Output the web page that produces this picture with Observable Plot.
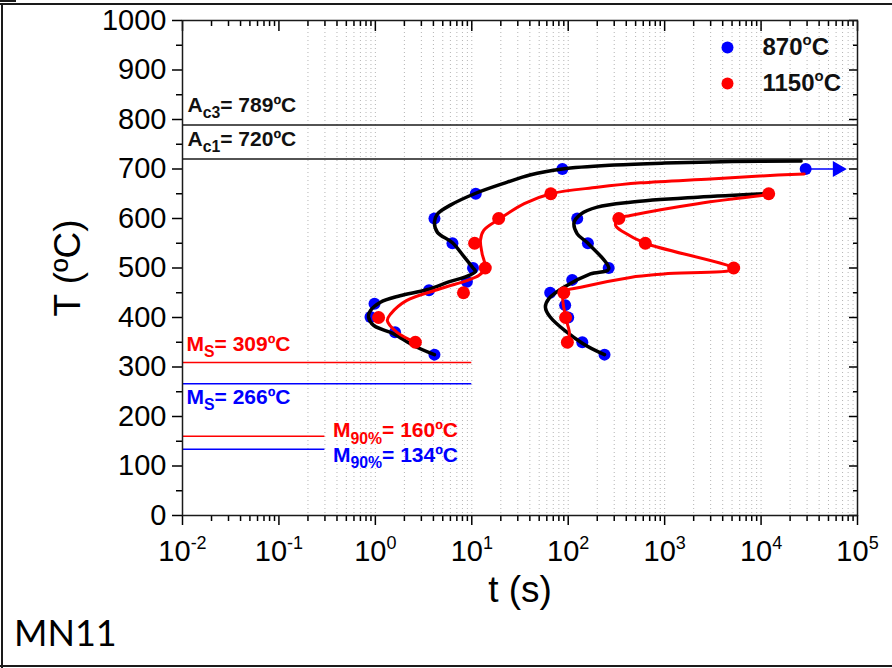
<!DOCTYPE html>
<html><head><meta charset="utf-8">
<script src="https://cdn.jsdelivr.net/npm/d3@7"></script>
<script src="https://cdn.jsdelivr.net/npm/@observablehq/plot@0.6"></script>
<style>
html,body{margin:0;padding:0;background:#fff;}
#wrap{position:relative;width:892px;height:668px;overflow:hidden;background:#fff;}
#chart{position:absolute;left:0;top:0;}
.b{position:absolute;background:#1a1a1a;}
#cap{position:absolute;left:14px;top:614px;font-family:Lato,"Noto Sans",sans-serif;font-size:36px;color:#000;line-height:1;}
</style></head><body>
<div id="wrap"><div id="chart"></div><div id="cap">MN11</div>
<div class="b" style="left:0;top:3px;width:892px;height:2px"></div>
<div class="b" style="left:1px;top:3px;width:2px;height:665px"></div>
<div class="b" style="left:0;top:665px;width:892px;height:2px"></div>
<div class="b" style="left:0;top:0;width:16px;height:2px"></div>
</div>
<script>
// ---------- data ----------
const seriesNames = ["870ºC", "1150ºC"];
const legendLabels = ["870^{o}C", "1150^{o}C"];
const pointColors = ["#0000ff", "#ff0000"];
const fitColors = ["#000000", "#ff0000"];

// measured points [t (s), T (ºC)]
const pts870 = [[87,700],[11,650],[4.1,600],[6.3,550],[10.3,500],[8.9,472],[3.6,455],[0.98,428],[0.89,401],[1.6,370],[4.1,325],
  [124,600],[160,550],[263,500],[110,476],[65,450],[93,425],[100,400],[140,350],[238,325],[2.9e4,700]];
const pts1150 = [[66,650],[19,600],[10.7,550],[13.8,500],[8.2,450],[1.08,400],[2.6,350],
  [1.2e4,650],[335,600],[630,550],[5200,500],[90,450],[94,400],[98,350]];

// fitted curves
const fit870a = [[2.6e4,716],[5000,715],[1000,712],[300,708],[87,700],[40,688],[23,673],[11,651],[6,627],[4.4,609],[4.1,593],[4.4,572],[6.3,551],[8.3,523],[10.3,500],[10.9,493],[8.3,481],[6.0,473],[3.4,456],[1.8,444],[1.13,431],[0.89,414],[0.85,401],[0.96,384],[1.55,367],[2.5,343],[4.1,325]];
const fit870b = [[1.07e4,650],[2200,643],[440,633],[200,623],[135,609],[115,592],[124,569],[160,550],[263,498],[170,488],[90,461],[63,438],[58,421],[65,401],[140,348],[238,325]];
const fit1150a = [[2.8e4,690],[1e4,686],[3000,680],[565,672],[200,663],[66,650],[35,630],[19,598],[13.3,576],[12.3,556],[12.8,529],[13.8,500],[11.8,485],[4.7,458],[2.1,434],[1.44,407],[1.33,394],[1.68,370],[2.6,350]];
const fit1150b = [[1.2e4,648],[2200,630],[441,606],[335,600],[310,586],[378,572],[630,550],[5200,498],[980,488],[441,481],[135,461],[90,451],[94,401],[103,368],[98,350]];

// arrow (t > 2.9e4 s at 700 ºC)
const arrowStart = [2.9e4, 700];
const arrowEnd = [6.2e4, 700];

// critical temperatures
const acTemps = [789, 720];
const acLabels = ["A_{c3}= 789ºC", "A_{c1}= 720ºC"];
const msTemps = [309, 266];           // 1150 (red), 870 (blue)
const msLabels = ["M_{S}= 309ºC", "M_{S}= 266ºC"];
const m90Temps = [160, 134];
const m90Labels = ["M_{90%}= 160ºC", "M_{90%}= 134ºC"];
const msLineEnd = 10;
const m90LineEnd = 0.3;
const annColors = ["#ff0000", "#0000ff"];

// axes
const xMajor = [1e-2,1e-1,1e0,1e1,1e2,1e3,1e4,1e5];
const xMinor = [];
for (let k = -2; k <= 4; k++) for (let n = 2; n <= 9; n++) xMinor.push(+(n * Math.pow(10, k)).toPrecision(3));
const gridTimes = [];
for (let k = -1; k <= 4; k++) for (let n = (k < 0 ? 2 : 1); n <= 9; n++) gridTimes.push(+(n * Math.pow(10, k)).toPrecision(3));
const yMajor = d3.range(0, 1001, 100);
const yMinor = d3.range(50, 1000, 100);

// ---------- chart ----------
const X = d => d[0], Y = d => d[1];
const blank = () => "";
const annFont = {fontSize: 21, fontWeight: "bold"};

const marks = [
  Plot.ruleX(gridTimes, {stroke: "#b4b4b4", strokeDasharray: "1,3", strokeWidth: 1}),
  Plot.ruleY(acTemps, {stroke: "#1a1a1a", strokeWidth: 1.5}),
  Plot.ruleY(msTemps, {x1: 1e-2, x2: msLineEnd, stroke: (d, i) => annColors[i], strokeWidth: 1.5}),
  Plot.ruleY(m90Temps, {x1: 1e-2, x2: m90LineEnd, stroke: (d, i) => annColors[i], strokeWidth: 1.5}),
  // blue points + black fits
  Plot.dot(pts870, {x: X, y: Y, r: 6, fill: pointColors[0]}),
  Plot.line(fit870a, {x: X, y: Y, curve: "catmull-rom", stroke: fitColors[0], strokeWidth: 3.5}),
  Plot.line(fit870b, {x: X, y: Y, curve: "catmull-rom", stroke: fitColors[0], strokeWidth: 3.5}),
  // red points + red fits
  Plot.dot(pts1150, {x: X, y: Y, r: 6.5, fill: pointColors[1]}),
  Plot.line(fit1150a, {x: X, y: Y, curve: "catmull-rom", stroke: fitColors[1], strokeWidth: 3}),
  Plot.line(fit1150b, {x: X, y: Y, curve: "catmull-rom", stroke: fitColors[1], strokeWidth: 3}),
  // arrow
  Plot.link([[arrowStart, arrowEnd]], {x1: d => d[0][0], y1: d => d[0][1], x2: d => d[1][0], y2: d => d[1][1], stroke: pointColors[0], strokeWidth: 1.5}),
  Plot.dot([arrowEnd], {x: X, y: Y, symbol: "triangle", rotate: 90, r: 5, fill: pointColors[0], stroke: pointColors[0]}),
  // annotations
  Plot.text(acTemps, {frameAnchor: "left", y: d => d, text: (d, i) => acLabels[i], dx: 5, dy: -13, textAnchor: "start", lineAnchor: "bottom", fill: "#111", ...annFont}),
  Plot.text([msTemps[0]], {frameAnchor: "left", y: d => d, text: () => msLabels[0], dx: 4, dy: -12, textAnchor: "start", lineAnchor: "bottom", fill: annColors[0], ...annFont}),
  Plot.text([msTemps[1]], {frameAnchor: "left", y: d => d, text: () => msLabels[1], dx: 4, dy: 20, textAnchor: "start", lineAnchor: "bottom", fill: annColors[1], ...annFont}),
  Plot.text([m90Temps[0]], {x: () => m90LineEnd, y: d => d, text: () => m90Labels[0], dx: 8, dy: 1, textAnchor: "start", lineAnchor: "bottom", fill: annColors[0], ...annFont}),
  Plot.text([m90Temps[1]], {x: () => m90LineEnd, y: d => d, text: () => m90Labels[1], dx: 8, dy: 13, textAnchor: "start", lineAnchor: "bottom", fill: annColors[1], ...annFont}),
  // legend
  ...legendLabels.flatMap((lab, i) => [
    Plot.dot([lab], {frameAnchor: "top-left", dx: 545, dy: 27 + 36 * i, r: 6, fill: pointColors[i]}),
    Plot.text([lab], {frameAnchor: "top-left", dx: 580, dy: 27 + 36 * i, text: d => d, textAnchor: "start", lineAnchor: "middle", fontSize: 24, fontWeight: "bold", fill: "#111"})
  ]),
  // axes
  Plot.axisY({ticks: yMajor, tickSize: 10, tickPadding: 6, tickFormat: d3.format("d"), fontSize: 29, label: null, strokeWidth: 1.5}),
  Plot.axisY({ticks: yMinor, tickSize: 6, tickFormat: blank, label: null, strokeWidth: 1.5}),
  Plot.axisY({anchor: "right", ticks: yMajor, tickSize: 9, dx: -9, tickFormat: blank, label: null, strokeWidth: 1.5}),
  Plot.axisY({anchor: "right", ticks: yMinor, tickSize: 5, dx: -5, tickFormat: blank, label: null, strokeWidth: 1.5}),
  Plot.axisX({ticks: xMajor, tickSize: 10, tickPadding: 15, tickFormat: d => `10^{${Math.round(Math.log10(d))}}`, fontSize: 29, label: null, strokeWidth: 1.5}),
  Plot.axisX({ticks: xMinor, tickSize: 6, tickFormat: blank, label: null, strokeWidth: 1.5}),
  Plot.axisX({anchor: "top", ticks: xMajor, tickSize: 10, dy: 10, tickFormat: blank, label: null, strokeWidth: 1.5}),
  Plot.axisX({anchor: "top", ticks: xMinor, tickSize: 5, dy: 5, tickFormat: blank, label: null, strokeWidth: 1.5}),
  Plot.frame({stroke: "#1a1a1a", strokeWidth: 1.5}),
  Plot.text(["T (ºC)"], {frameAnchor: "left", dx: -114, rotate: -90, text: d => d, fontSize: 37, textAnchor: "middle", lineAnchor: "middle", fill: "#000"}),
  Plot.text(["t (s)"], {frameAnchor: "bottom", dy: 75, text: d => d, fontSize: 37, textAnchor: "middle", lineAnchor: "middle", fill: "#000"})
];

const chart = Plot.plot({
  width: 892, height: 600,
  marginLeft: 182, marginRight: 35, marginTop: 20, marginBottom: 85,
  x: {type: "log", domain: [1e-2, 1e5]},
  y: {domain: [0, 1000]},
  color: {type: "identity"},
  style: {fontFamily: "'Liberation Sans', Arial, sans-serif", color: "#000", background: "transparent", overflow: "visible"},
  marks
});
document.getElementById("chart").appendChild(chart);

// rich text: ^{sup} and _{sub}
function richify(root) {
  root.querySelectorAll("text").forEach(el => {
    const s = el.textContent;
    if (!/[\^_]\{/.test(s) || el.querySelector("tspan")) return;
    const fs = parseFloat(getComputedStyle(el).fontSize) || 16;
    el.textContent = "";
    const re = /([\^_])\{([^}]*)\}|([^\^_]+)/g;
    let m, cur = 0;
    while ((m = re.exec(s))) {
      const ts = document.createElementNS("http://www.w3.org/2000/svg", "tspan");
      let off = 0, size = null, txt;
      if (m[1] === "^") { off = -0.42 * fs; size = 0.62 * fs; txt = m[2]; }
      else if (m[1] === "_") { off = 0.3 * fs; size = 0.75 * fs; txt = m[2]; }
      else txt = m[3];
      if (off !== cur) ts.setAttribute("dy", (off - cur).toFixed(2));
      cur = off;
      if (size) ts.setAttribute("font-size", size.toFixed(1));
      ts.textContent = txt;
      el.appendChild(ts);
    }
  });
}
richify(chart);
</script>
</body></html>
